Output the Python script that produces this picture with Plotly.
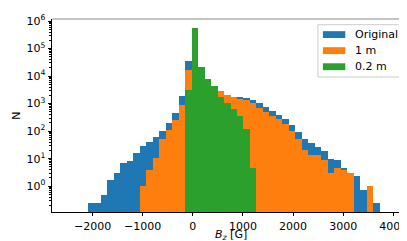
import numpy as np
import plotly.graph_objects as go

# ---------------- data ----------------
bin_lo = -2485.0
bin_width = 129.5
n_bins = 50

# counts per bin (index 0..49); None = empty bin
original = [None, None, None,
            0.24, 0.24, 0.47, 1.73, 3.1, 6.7, 8.2, 16, 27.8, 42, 63, 99, 202, 446, 1940,
            36600, 450000, 15000, 7000, 4200, 2810, 2100, 1780, 1700, 1560, 1400, 1010,
            730, 524, 388, 280, 172, 94, 50, 35.6, 25.5, 19, 10, 8.6, 4.5, 2.9, 2.4,
            0.74, 0.74, 0.24, None, None]
one_m = [None, None, None,
         None, None, None, None, None, None, None, None, 1.0, 3.9, 10.7, 50, 108, 244, 895,
         16600, 400000, 14000, 6800, 4240, 2810, 2100, 1780, 1510, 1320, 1090, 690,
         485, 366, 280, 186, 99, 52, 21, 14, 13.3, 9, 3.0, 4.7, 3.9, 2.9, None,
         None, 1.0, None, None, None]
point2_m = [None] * 18 + [3170, 570000, 20600, 7960, 4240, 1780, 1030, 636, 348, 123, 4.7] + [None] * 21

series_names = ["Original", "1 m", "0.2 m"]
series_colors = ["#1f77b4", "#ff7f0e", "#2ca02c"]

x_ticks = [-2000, -1000, 0, 1000, 2000, 3000, 4000]
y_decades = [0, 1, 2, 3, 4, 5, 6]

# ---------------- figure ----------------
edges = bin_lo + bin_width * np.arange(n_bins + 1)
centers = (edges[:-1] + edges[1:]) / 2
span = edges[-1] - edges[0]
x_range = [edges[0] - 0.05 * span, edges[-1] + 0.05 * span]

all_vals = [v for s in (original, one_m, point2_m) for v in s if v]
lmin, lmax = np.log10(min(all_vals)), np.log10(max(all_vals))
lspan = lmax - lmin
y_range = [lmin - 0.05 * lspan, lmax + 0.05 * lspan]

fig = go.Figure()
for name, vals, col in zip(series_names, [original, one_m, point2_m], series_colors):
    fig.add_trace(go.Bar(x=centers, y=vals, width=bin_width, name=name,
                         marker=dict(color=col, line=dict(width=0)), opacity=1,
                         showlegend=False))

FONT = "DejaVu Sans"
FS = 11
minor_vals = [m * 10.0 ** k for k in range(-1, 7) for m in range(2, 10)]

L, R, T, B = 44.0, 401.5, 7.5, 204.5
def px_x(p):
    return (p - L) / (R - L)
def px_y(p):
    return 1 - (p - T) / (B - T)

fig.update_layout(
    width=407, height=241,
    margin=dict(l=L, r=407 - R, t=T, b=241 - B),
    barmode="overlay", bargap=0,
    plot_bgcolor="white", paper_bgcolor="white",
    font=dict(family=FONT, size=FS, color="black"),
    xaxis=dict(range=x_range, tickvals=x_ticks,
               ticktext=[("\u2212" + str(-t)) if t < 0 else str(t) for t in x_ticks],
               ticks="outside", ticklen=3.5, tickwidth=0.8, tickcolor="black",
               tickfont=dict(family=FONT, size=FS),
               showline=True, linecolor="black", linewidth=0.8, mirror=False,
               showgrid=False, zeroline=False),
    yaxis=dict(type="log", range=y_range,
               tickvals=[10.0 ** d for d in y_decades],
               ticktext=["10<sup>%d</sup>" % d for d in y_decades],
               ticks="outside", ticklen=3.5, tickwidth=0.8, tickcolor="black",
               tickfont=dict(family=FONT, size=FS),
               minor=dict(tickvals=minor_vals, ticks="outside", ticklen=2,
                          tickwidth=0.6, tickcolor="black", showgrid=False),
               showline=True, linecolor="black", linewidth=0.8, mirror=True,
               showgrid=False, zeroline=False,
               title=dict(text="N", standoff=3, font=dict(family=FONT, size=FS))),
)

# x axis title
fig.add_annotation(xref="paper", yref="paper", x=0.5, y=px_y(227.5),
                   text="<i>B<sub>z</sub></i> [G]", showarrow=False,
                   xanchor="center", yanchor="middle",
                   font=dict(family=FONT, size=FS, color="black"))

# top spine (greyish in reference)
fig.add_shape(type="line", xref="paper", yref="paper", x0=0, x1=1, y0=1, y1=1,
              line=dict(color="#8a8a8a", width=1))

# manual legend (matplotlib style)
fig.add_shape(type="rect", xref="paper", yref="paper",
              x0=px_x(310.3), x1=px_x(396.5), y0=px_y(13.3), y1=px_y(66.7),
              line=dict(color="#cccccc", width=1), fillcolor="rgba(255,255,255,0.8)")
for i, (name, col) in enumerate(zip(series_names, series_colors)):
    cy = 23.4 + i * 16.4
    fig.add_shape(type="rect", xref="paper", yref="paper",
                  x0=px_x(315.3), x1=px_x(337.7), y0=px_y(cy - 3.5), y1=px_y(cy + 3.5),
                  line=dict(width=0), fillcolor=col)
    fig.add_annotation(xref="paper", yref="paper", x=px_x(345.5), y=px_y(cy),
                       text=name, showarrow=False, xanchor="left", yanchor="middle",
                       font=dict(family=FONT, size=FS, color="black"))

fig.write_html("out.html")
